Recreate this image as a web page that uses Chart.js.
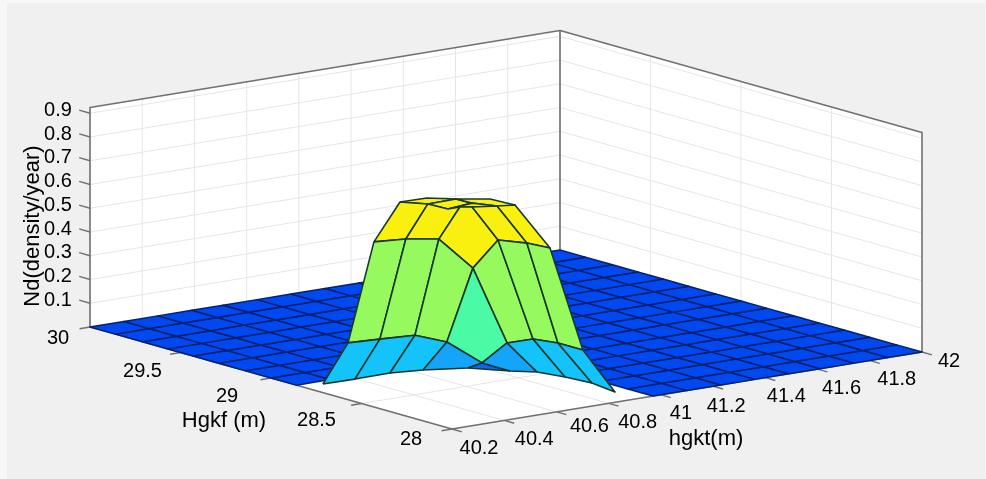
<!DOCTYPE html>
<html>
<head>
<meta charset="utf-8">
<style>
  html, body { margin: 0; background: #f7f7f7; }
  #panel { position: absolute; left: 7px; top: 3px; width: 978px; height: 476px; background: #f0f0f0; }
  #chart { position: absolute; left: 0; top: 0; filter: blur(0.5px); }
</style>
<script src="https://cdn.jsdelivr.net/npm/chart.js@4"></script>
</head>
<body>
<div id="panel"></div>
<canvas id="chart" width="986" height="479"></canvas>
<script>
// axis ticks
const hgktTicks = [40.2, 40.4, 40.6, 40.8, 41, 41.2, 41.4, 41.6, 41.8, 42];
const hgkfTicks = [28, 28.5, 29, 29.5, 30];
const ndTicks = [0.1, 0.2, 0.3, 0.4, 0.5, 0.6, 0.7, 0.8, 0.9];
const ndTop = 0.924;

// flat part of the surface, nd = 0 everywhere on this grid
const meshHgkt = [40.2, 40.33, 40.46, 40.59, 40.71, 40.84, 40.97, 41.1, 41.23, 41.36, 41.49, 41.61, 41.74, 41.87, 42];
const meshHgkf = [28, 28.14, 28.29, 28.43, 28.57, 28.71, 28.86, 29, 29.14, 29.29, 29.43, 29.57, 29.71, 29.86, 30];
const holeCells = 6; // the front corner of the mesh has no flat cells

// the peak, one entry per vertex
const peakHgkt = [40.274, 40.394, 40.531, 40.637, 40.763, 40.839, 40.896, 40.921, 40.934, 40.913,
  40.812, 40.274, 40.394, 40.531, 40.637, 40.781, 40.798, 40.804, 40.79,
  40.274, 40.394, 40.531, 40.637, 40.664, 40.685, 40.664,
  40.274, 40.394, 40.47, 40.531, 40.565, 40.571, 40.53, 40.38, 40.47, 40.524, 40.56];
const peakHgkf = [28.82, 28.816, 28.82, 28.79, 28.724, 28.601, 28.534, 28.415, 28.286, 28.128,
  28.717, 28.681, 28.678, 28.682, 28.659, 28.534, 28.415, 28.286, 28.128,
  28.538, 28.535, 28.55, 28.515, 28.415, 28.286, 28.128,
  28.394, 28.413, 28.412, 28.434, 28.415, 28.286, 28.128, 28.398, 28.367, 28.357, 28.309];
const peakNd = [0, 0, 0, 0, 0, 0, 0, 0, 0, 0,
  0.014, 0.203, 0.198, 0.189, 0.146, 0.143, 0.182, 0.192, 0.199,
  0.659, 0.65, 0.622, 0.488, 0.623, 0.634, 0.651,
  0.858, 0.824, 0.789, 0.782, 0.78, 0.811, 0.856, 0.855, 0.841, 0.816, 0.837];
const peakFaces = [
  [26, 33, 34, 27], [27, 34, 35, 28], [34, 36, 32, 31, 35], [28, 35, 31, 30, 29],
  [19, 20, 27, 26], [20, 21, 29, 28, 27], [21, 22, 23, 30, 29], [23, 24, 31, 30], [24, 25, 32, 31],
  [11, 12, 20, 19], [12, 13, 21, 20], [13, 14, 22, 21], [15, 16, 23, 22], [16, 17, 24, 23], [17, 18, 25, 24],
  [14, 10, 15, 22],
  [0, 1, 12, 11], [1, 2, 13, 12], [2, 3, 14, 13], [3, 4, 10, 14], [4, 5, 10],
  [10, 5, 6, 15], [15, 6, 7, 16], [16, 7, 8, 17], [17, 8, 9, 18]
];

// colormap, a face takes the colour of its mean nd
const bandLimits = [0.001, 0.02, 0.06, 0.15, 0.3, 0.55, 1];
const bandColors = ['#0048f0', '#0f64f2', '#14a5fa', '#14c3fa', '#4bfaa5', '#96fa5f', '#faf00f'];

// tick label nudges, px from the tick on the axis
const hgktLabelDx = [27, 30, 33, 29, 20, 13, 21, 24, 27, 27];
const hgktLabelDy = [19, 19, 15, 19, 19, 20, 19, 19, 19, 9];
const hgkfLabelDx = [-41, -45, -44, -38, -32];
const hgkfLabelDy = [10, 17, 18, 19, 11];

const hgktMin = 40.2, hgktMax = 42, hgkfMin = 28, hgkfMax = 30;

// orthographic view of the box, screen units are canvas px
function project(hgkt, hgkf, nd) {
  const a = (hgkt - hgktMin) / (hgktMax - hgktMin);
  const b = (hgkf - hgkfMin) / (hgkfMax - hgkfMin);
  return {
    x: 452 + 470 * a - 362 * b,
    y: 429 - 77 * a - 102 * b - 237.5 * nd
  };
}

function shape(points, fillColor, edgeColor, edgeWidth) {
  const closed = fillColor ? points.concat([points[0]]) : points;
  return {
    data: closed,
    showLine: true,
    tension: 0,
    pointRadius: 0,
    borderColor: edgeColor,
    borderWidth: edgeWidth,
    backgroundColor: fillColor || 'transparent',
    fill: fillColor ? 'shape' : false,
    borderJoinStyle: 'round',
    clip: false
  };
}

function faceColor(mean) {
  return bandColors[bandLimits.findIndex(l => mean < l)];
}

function buildDatasets() {
  const sets = [];
  const gridColor = '#e6e6e6';
  const boxColor = '#707070';

  // walls and floor
  sets.push(shape([project(hgktMin, hgkfMax, 0), project(hgktMax, hgkfMax, 0), project(hgktMax, hgkfMax, ndTop), project(hgktMin, hgkfMax, ndTop)], '#fff', 'transparent', 0));
  sets.push(shape([project(hgktMax, hgkfMin, 0), project(hgktMax, hgkfMax, 0), project(hgktMax, hgkfMax, ndTop), project(hgktMax, hgkfMin, ndTop)], '#fff', 'transparent', 0));
  sets.push(shape([project(hgktMin, hgkfMin, 0), project(hgktMax, hgkfMin, 0), project(hgktMax, hgkfMax, 0), project(hgktMin, hgkfMax, 0)], '#fff', 'transparent', 0));

  // grid lines
  hgktTicks.forEach(t => {
    sets.push(shape([project(t, hgkfMin, 0), project(t, hgkfMax, 0), project(t, hgkfMax, ndTop)], null, gridColor, 1));
  });
  hgkfTicks.forEach(t => {
    sets.push(shape([project(hgktMin, t, 0), project(hgktMax, t, 0), project(hgktMax, t, ndTop)], null, gridColor, 1));
  });
  ndTicks.forEach(t => {
    sets.push(shape([project(hgktMin, hgkfMax, t), project(hgktMax, hgkfMax, t), project(hgktMax, hgkfMin, t)], null, gridColor, 1));
  });

  // box edges
  sets.push(shape([project(hgktMin, hgkfMax, 0), project(hgktMin, hgkfMax, ndTop), project(hgktMax, hgkfMax, ndTop), project(hgktMax, hgkfMin, ndTop), project(hgktMax, hgkfMin, 0)], null, boxColor, 1.6));
  sets.push(shape([project(hgktMax, hgkfMax, 0), project(hgktMax, hgkfMax, ndTop)], null, boxColor, 1.6));
  sets.push(shape([project(hgktMin, hgkfMax, 0), project(hgktMin, hgkfMin, 0), project(hgktMax, hgkfMin, 0)], null, boxColor, 1.6));

  // tick marks
  hgktTicks.forEach(t => {
    sets.push(shape([project(t, hgkfMin, 0), project(t, hgkfMin - 0.055, 0)], null, boxColor, 1.4));
  });
  hgkfTicks.forEach(t => {
    sets.push(shape([project(hgktMin, t, 0), project(hgktMin - 0.04, t, 0)], null, boxColor, 1.4));
  });
  ndTicks.forEach(t => {
    sets.push(shape([project(hgktMin, hgkfMax, t), project(hgktMin, hgkfMax + 0.06, t)], null, boxColor, 1.4));
  });

  // flat mesh
  for (let i = 0; i < meshHgkt.length - 1; i++) {
    for (let j = 0; j < meshHgkf.length - 1; j++) {
      if (i < holeCells && j < holeCells) continue;
      sets.push(shape([
        project(meshHgkt[i], meshHgkf[j], 0),
        project(meshHgkt[i + 1], meshHgkf[j], 0),
        project(meshHgkt[i + 1], meshHgkf[j + 1], 0),
        project(meshHgkt[i], meshHgkf[j + 1], 0)
      ], bandColors[0], '#05206e', 1.5));
    }
  }

  // peak faces
  peakFaces.forEach(face => {
    const mean = face.reduce((sum, v) => sum + peakNd[v], 0) / face.length;
    const points = face.map(v => project(peakHgkt[v], peakHgkf[v], peakNd[v]));
    sets.push(shape(points, faceColor(mean), '#16382c', 1.6));
  });

  // first dataset is painted last by Chart.js
  return sets.reverse();
}

// 3D axis text, placed through the chart's scales
const axisText = {
  id: 'axisText',
  afterDatasetsDraw(chart) {
    const { ctx, scales } = chart;
    const put = (text, sx, sy, size, rotation) => {
      ctx.save();
      ctx.translate(scales.x.getPixelForValue(sx), scales.y.getPixelForValue(sy));
      if (rotation) ctx.rotate(rotation);
      ctx.font = size + 'px "Liberation Sans"';
      ctx.fillStyle = '#000';
      ctx.textAlign = 'center';
      ctx.textBaseline = 'middle';
      ctx.fillText(text, 0, 0);
      ctx.restore();
    };
    hgktTicks.forEach((t, i) => {
      const p = project(t, hgkfMin, 0);
      put(String(t), p.x + hgktLabelDx[i], p.y + hgktLabelDy[i], 20);
    });
    hgkfTicks.forEach((t, i) => {
      const p = project(hgktMin, t, 0);
      put(String(t), p.x + hgkfLabelDx[i], p.y + hgkfLabelDy[i], 20);
    });
    ndTicks.forEach(t => {
      const p = project(hgktMin, hgkfMax, t);
      put(String(t), p.x - 32, p.y - 3, 20);
    });
    put('Hgkf (m)', 224, 421, 22);
    put('hgkt(m)', 706, 439, 22);
    put('Nd(density/year)', 33, 226, 22, -Math.PI / 2);
  }
};

new Chart(document.getElementById('chart'), {
  type: 'scatter',
  data: { datasets: buildDatasets() },
  options: {
    responsive: false,
    animation: false,
    layout: { padding: 0 },
    plugins: { legend: { display: false }, tooltip: { enabled: false } },
    scales: {
      x: { type: 'linear', min: 0, max: 986, display: false },
      y: { type: 'linear', min: 0, max: 479, reverse: true, display: false }
    }
  },
  plugins: [axisText]
});
</script>
</body>
</html>
